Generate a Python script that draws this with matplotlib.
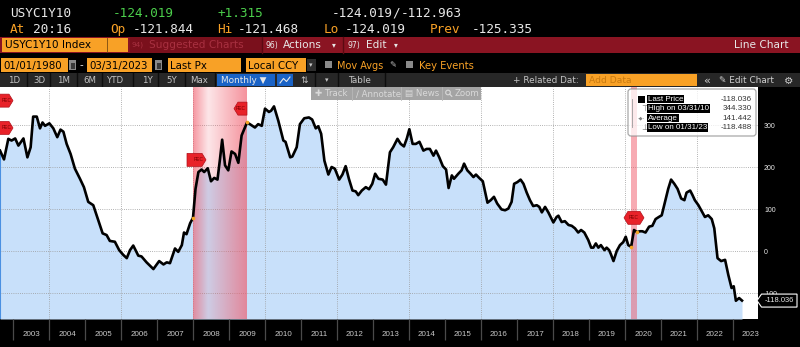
import numpy as np
import matplotlib
matplotlib.use("Agg")
import matplotlib.pyplot as plt
from matplotlib.patches import Rectangle, Polygon, FancyBboxPatch, Circle
import matplotlib.transforms as mtransforms

# ---- USYC1Y10 Index: monthly 1y/10y spread (bp), dates as decimal years ----
dates = [
    2002.64, 2002.75, 2002.87, 2002.96, 2003.06, 2003.15, 2003.29, 2003.40, 2003.49, 2003.56,
    2003.66, 2003.75, 2003.82, 2003.89, 2004.01, 2004.12, 2004.23, 2004.32, 2004.40, 2004.49,
    2004.60, 2004.72, 2004.86, 2004.97, 2005.09, 2005.23, 2005.37, 2005.49, 2005.60, 2005.69,
    2005.83, 2005.95, 2006.06, 2006.16, 2006.25, 2006.34, 2006.48, 2006.57, 2006.71, 2006.90,
    2007.06, 2007.18, 2007.27, 2007.36, 2007.50, 2007.59, 2007.69, 2007.75, 2007.82, 2007.92,
    2008.00, 2008.07, 2008.15, 2008.24, 2008.31, 2008.41, 2008.50, 2008.59, 2008.68, 2008.75,
    2008.81, 2008.89, 2008.98, 2009.07, 2009.17, 2009.26, 2009.35, 2009.50, 2009.58, 2009.72,
    2009.81, 2009.91, 2010.00, 2010.11, 2010.17, 2010.25, 2010.37, 2010.51, 2010.57, 2010.70,
    2010.76, 2010.88, 2010.97, 2011.09, 2011.22, 2011.31, 2011.41, 2011.48, 2011.56, 2011.65,
    2011.76, 2011.85, 2011.94, 2012.06, 2012.15, 2012.24, 2012.33, 2012.43, 2012.52, 2012.59,
    2012.69, 2012.80, 2012.89, 2012.98, 2013.06, 2013.15, 2013.27, 2013.36, 2013.47, 2013.56,
    2013.68, 2013.77, 2013.86, 2013.94, 2014.01, 2014.10, 2014.19, 2014.29, 2014.40, 2014.49,
    2014.58, 2014.68, 2014.75, 2014.84, 2014.94, 2015.03, 2015.10, 2015.19, 2015.25, 2015.37,
    2015.46, 2015.53, 2015.62, 2015.71, 2015.79, 2015.86, 2015.95, 2016.05, 2016.11, 2016.18,
    2016.27, 2016.36, 2016.45, 2016.57, 2016.67, 2016.76, 2016.85, 2016.92, 2017.01, 2017.10,
    2017.18, 2017.27, 2017.36, 2017.45, 2017.55, 2017.62, 2017.69, 2017.78, 2017.87, 2018.01,
    2018.10, 2018.15, 2018.24, 2018.33, 2018.43, 2018.52, 2018.61, 2018.70, 2018.78, 2018.87,
    2018.98, 2019.06, 2019.12, 2019.19, 2019.26, 2019.33, 2019.43, 2019.49, 2019.56, 2019.61,
    2019.68, 2019.77, 2019.86, 2019.95, 2020.02, 2020.09, 2020.17, 2020.25, 2020.33, 2020.42,
    2020.48, 2020.57, 2020.67, 2020.76, 2020.85, 2020.94, 2021.02, 2021.11, 2021.20, 2021.28,
    2021.37, 2021.46, 2021.56, 2021.65, 2021.71, 2021.81, 2021.87, 2021.94, 2022.04, 2022.13,
    2022.22, 2022.31, 2022.41, 2022.48, 2022.57, 2022.67, 2022.78, 2022.87, 2022.96, 2023.02,
    2023.08, 2023.17, 2023.25,
]
values = [
    239, 218, 267, 263, 268, 251, 268, 223, 247, 320,
    320, 292, 306, 298, 304, 292, 271, 289, 284, 255,
    231, 196, 172, 152, 117, 109, 73, 42, 38, 24,
    22, 2, -9, -17, 2, 13, -11, -13, -27, -43,
    -24, -32, -27, -29, 6, -2, 14, 44, 40, 66,
    79, 148, 188, 194, 188, 197, 166, 174, 170, 219,
    265, 204, 192, 237, 231, 210, 275, 306, 302, 294,
    302, 298, 339, 331, 334, 344.33, 310, 263, 260, 223,
    225, 247, 302, 316, 318, 313, 292, 297, 279, 215,
    182, 200, 196, 170, 182, 202, 172, 144, 142, 133,
    144, 152, 147, 160, 184, 172, 170, 158, 235, 247,
    267, 255, 249, 268, 290, 255, 255, 260, 239, 243,
    243, 227, 239, 223, 202, 194, 150, 180, 172, 184,
    192, 208, 192, 184, 176, 182, 174, 166, 142, 115,
    121, 129, 113, 99, 97, 101, 117, 160, 164, 170,
    160, 139, 121, 107, 109, 105, 92, 105, 92, 68,
    81, 84, 69, 71, 62, 60, 54, 44, 50, 44,
    26, 8, 8, 18, 8, 14, 2, 8, 2, -8,
    -24, 0, 14, 21, 34, 14, 10, 50, 45, 47,
    47, 44, 58, 60, 76, 81, 85, 117, 148, 170,
    160, 148, 125, 121, 139, 144, 134, 121, 109, 95,
    81, 85, 76, 54, -17, -24, -21, -57, -88, -84,
    -118.488, -112, -118.036,
]

recessions = [(2008.00, 2009.50), (2020.17, 2020.33)]
year_labels = list(range(2003, 2024))
y_ticks = [-100, 0, 100, 200, 300]

legend_rows = ["Last Price", "High on 03/31/10", "Average", "Low on 01/31/23"]
legend_vals = [-118.036, 344.330, 141.442, -118.488]
last_price = -118.036

# ---- colours / fonts ----
ORANGE = "#f8a126"
GREEN = "#4ccf4c"
WHITE = "#e8e8e8"
RED_BAR = "#8a1422"
MONO = ["DejaVu Sans Mono"]
SANS = ["DejaVu Sans"]
ARIAL = ["Liberation Sans", "DejaVu Sans"]

W, H = 800, 347
fig = plt.figure(figsize=(W / 100, H / 100), dpi=100, facecolor="black")

# pixel-space layer for the terminal chrome
ui = fig.add_axes([0, 0, 1, 1])
ui.set_xlim(0, W)
ui.set_ylim(H, 0)
ui.axis("off")
ui.set_zorder(0)


def txt(layer, x, y, s, color=WHITE, size=7.5, family=SANS, ha="left", **kw):
    layer.text(x, y, s, color=color, fontsize=size, family=family, ha=ha,
               va="center", **kw)


def box(layer, x0, y0, x1, y1, color, **kw):
    layer.add_patch(Rectangle((x0, y0), x1 - x0, y1 - y0, facecolor=color,
                              edgecolor=kw.pop("ec", "none"), lw=kw.pop("lw", 0), **kw))


# row 1 : ticker and last
txt(ui, 10, 13, "USYC1Y10", WHITE, 9.2, MONO)
txt(ui, 113, 13, "-124.019", GREEN, 9.2, MONO)
txt(ui, 217, 13, "+1.315", GREEN, 9.2, MONO)
txt(ui, 332, 13, "-124.019", WHITE, 9.2, MONO)
txt(ui, 392, 13, "/", WHITE, 9.2, MONO)
txt(ui, 401, 13, "-112.963", WHITE, 9.2, MONO)
# row 2 : quote details
for lab, lx, val, vx in [("At", 10, "20:16", 33), ("Op", 110, "-121.844", 133),
                         ("Hi", 217, "-121.468", 238), ("Lo", 324, "-124.019", 345),
                         ("Prev", 430, "-125.335", 472)]:
    txt(ui, lx, 29, lab, ORANGE, 9.2, MONO)
    txt(ui, vx, 29, val, WHITE, 9.2, MONO)

# row 3 : red command bar
box(ui, 0, 37, W, 53, RED_BAR)
box(ui, 130, 37, 262, 53, "#7a101c")
box(ui, 2, 38, 128, 52, ORANGE)
ui.plot([107, 107], [38, 52], color="#7a4a10", lw=0.6)
txt(ui, 5, 45, "USYC1Y10 Index", "black", 7.6)
txt(ui, 132, 45, "94)", "#a83040", 5.2)
txt(ui, 149, 45, "Suggested Charts", "#a83040", 7.6)
ui.plot([262, 262], [37, 53], color="#5a0a12", lw=1)
ui.plot([343, 343], [37, 53], color="#5a0a12", lw=1)
txt(ui, 265, 45, "96)", WHITE, 5.5)
txt(ui, 283, 45, "Actions", WHITE, 7.6)
txt(ui, 332, 45, "\u25be", WHITE, 5.5)
txt(ui, 347, 45, "97)", WHITE, 5.5)
txt(ui, 366, 45, "Edit", WHITE, 7.6)
txt(ui, 394, 45, "\u25be", WHITE, 5.5)
txt(ui, 789, 45, "Line Chart", WHITE, 7.6, ha="right")

# row 4 : date range / options
for x0, x1, s in [(1, 68, "01/01/1980"), (87, 152, "03/31/2023"),
                  (168, 241, "Last Px"), (246, 306, "Local CCY")]:
    box(ui, x0, 58, x1, 72, ORANGE)
    txt(ui, x0 + 2, 65.5, s, "black", 7.4)
for cx in (69, 155):
    box(ui, cx, 60, cx + 7, 70, "#8a8a8a")
    box(ui, cx + 1.5, 62.5, cx + 5.5, 68.5, "#3a3a3a")
txt(ui, 79, 65, "-", WHITE, 7.4)
box(ui, 307, 59, 316, 71, "#2e2e2e")
txt(ui, 309, 65, "\u25be", "#c8c8c8", 5)
box(ui, 325, 61, 332, 68, "#8a8a8a")
txt(ui, 337, 65.5, "Mov Avgs", ORANGE, 7.0)
txt(ui, 389, 65, "\u270e", "#bdbdbd", 6.0)
box(ui, 406, 61, 413, 68, "#8a8a8a")
txt(ui, 419, 65.5, "Key Events", ORANGE, 7.2)

# row 5 : period buttons and chart tools
box(ui, 0, 73, W, 87, "#272727")
for sx in (27, 50, 77, 102, 133, 158, 185, 215, 315, 338, 385):
    ui.plot([sx, sx], [73, 87], color="#0d0d0d", lw=1)
for cx, s in [(14, "1D"), (39, "3D"), (64, "1M"), (90, "6M"), (116, "YTD"),
              (147, "1Y"), (172, "5Y"), (199, "Max")]:
    txt(ui, cx, 80.5, s, "#c4c4c4", 6.2, ha="center")
box(ui, 217, 74, 275, 86, "#1a63c6")
txt(ui, 221, 80.5, "Monthly \u25bc", WHITE, 6.4)
box(ui, 277, 74, 293, 86, "#1a63c6")
ui.plot([280, 283.5, 286.5, 290], [83, 78.5, 81.5, 77], color=WHITE, lw=0.8)
txt(ui, 300, 80.5, "\u21c5", "#c4c4c4", 6.5)
txt(ui, 325, 80.5, "\u25be", "#c4c4c4", 5)
txt(ui, 348, 80.5, "Table", "#c4c4c4", 6.4)
txt(ui, 513, 80.5, "+ Related Dat:", "#c4c4c4", 6.4)
box(ui, 586, 74, 697, 86, ORANGE)
txt(ui, 589, 80.5, "Add Data", "#c87a10", 6.6)
txt(ui, 703, 80.5, "\u00ab", "#d0d0d0", 8)
txt(ui, 719, 80.5, "\u270e Edit Chart", "#d0d0d0", 6.4)
txt(ui, 784, 80.5, "\u2699", "#d0d0d0", 7.5)

# ---- chart ----
PLOT_L, PLOT_R, PLOT_T, PLOT_B = 0, 758, 87, 319
ax = fig.add_axes([PLOT_L / W, (H - PLOT_B) / H, (PLOT_R - PLOT_L) / W, (PLOT_B - PLOT_T) / H])
ax.set_zorder(1)
ax.set_facecolor("white")

px_per_year = 36.0
x_left = 2003 - 13 / px_per_year
x_right = x_left + (PLOT_R - PLOT_L) / px_per_year
px_per_bp = 0.42
y_top = (251 - PLOT_T) / px_per_bp
y_bot = (251 - PLOT_B) / px_per_bp

ax.fill_between(dates, values, y_bot, color="#c8e0fa", lw=0, zorder=1)

# dotted grid
grid_kw = dict(color="#9a9a9a", lw=0.6, ls=(0, (1, 1.6)), zorder=1.5)
for v in y_ticks:
    ax.axhline(v, **grid_kw)
for yr in year_labels:
    if yr % 2 == 0:
        ax.axvline(yr, **grid_kw)

# recession shading (horizontal pink gradient)
for (r0, r1) in recessions:
    n = 64
    t = np.linspace(0, 1, n)
    if r1 - r0 > 0.5:
        alpha = np.where(t < 0.28, 0.62 - 0.47 * t / 0.28, 0.15 + 0.5 * (t - 0.28) / 0.72)
    else:
        alpha = np.full(n, 0.5)
    img = np.zeros((1, n, 4))
    img[..., 0] = 240 / 255
    img[..., 1] = 88 / 255
    img[..., 2] = 104 / 255
    img[..., 3] = alpha
    ax.imshow(img, extent=(r0, r1, y_bot, y_top), aspect="auto", zorder=2,
              interpolation="bilinear")

ax.plot(dates, values, color="black", lw=1.9, zorder=4, solid_joinstyle="round")
ax.plot([dates[0], dates[0]], [y_bot, values[0]], color="#4a90e2", lw=1.5, zorder=3)

# orange markers at recession boundaries
lookup = dict(zip(dates, values))
for (r0, r1) in recessions:
    for d in (r0, r1):
        ax.plot(d, lookup[d], "o", ms=2.6, color="#f5a623", mec="none", zorder=5)

ax.set_xlim(x_left, x_right)
ax.set_ylim(y_bot, y_top)
for sp in ax.spines.values():
    sp.set_visible(False)

# year axis: separators at year boundaries, labels mid-year
ax.set_xticks(year_labels)
ax.set_xticklabels([])
ax.set_xticks([y + 0.5 for y in year_labels], minor=True)
ax.set_xticklabels([str(y) for y in year_labels], minor=True, family=ARIAL,
                   fontsize=5.8, color="#c8c8c8")
ax.tick_params(axis="x", which="major", direction="out", length=15, width=0.9,
               color="#4a4a4a")
ax.tick_params(axis="x", which="minor", length=0, pad=9)

ax.yaxis.tick_right()
ax.set_yticks(y_ticks)
ax.set_yticklabels([str(v) for v in y_ticks], family=ARIAL, fontsize=5.0, color=WHITE)
ax.tick_params(axis="y", length=0, pad=4.3)

fig.canvas.draw()


def anchor(d, v):
    px = ax.transData.transform((d, v))
    return mtransforms.Affine2D().translate(px[0], px[1])


REC_FACE, REC_EDGE, REC_TXT = "#e82229", "#b0101a", "#7a0000"


def rec_marker(d, v, kind, text_dx):
    h = 6.5
    if kind == "right":
        verts = [(-6, -h), (9, -h), (13, 0), (9, h), (-6, h)]
    elif kind == "left":
        verts = [(0, -h), (-9, -h), (-13, 0), (-9, h), (0, h)]
    else:
        verts = [(-10, 0), (-6, h), (6, h), (10, 0), (6, -h), (-6, -h)]
    tr = anchor(d, v)
    ax.add_patch(Polygon(verts, closed=True, facecolor=REC_FACE, edgecolor=REC_EDGE,
                         lw=0.5, transform=tr, zorder=6))
    ax.text(text_dx, 0, "REC", color=REC_TXT, fontsize=3.4, family=ARIAL,
            ha="center", va="center", transform=tr, zorder=7)


rec_marker(x_left, 358, "right", 6.5)
rec_marker(x_left, 293, "right", 6.5)
rec_marker(recessions[0][0], 217, "right", 6)
rec_marker(recessions[0][1], 339, "left", -6)
rec_marker((recessions[1][0] + recessions[1][1]) / 2, 79, "hex", 0)

# overlay layer (toolbar, legend, last-price tag)
top = fig.add_axes([0, 0, 1, 1])
top.set_xlim(0, W)
top.set_ylim(H, 0)
top.axis("off")
top.set_zorder(3)
top.patch.set_alpha(0)

box(top, 311, 87, 481, 100, "#9a9a9a", alpha=0.9)
for sx in (352, 401, 442):
    top.plot([sx, sx], [87, 100], color="#b8b8b8", lw=0.6)
txt(top, 315, 93.5, "\u271a Track", "#d9d9d9", 6.2)
txt(top, 356, 93.5, "\u2215 Annotate", "#d9d9d9", 6.2)
txt(top, 405, 93.5, "\u25a4 News", "#d9d9d9", 6.2)
# magnifier icon
top.add_patch(Circle((448, 92.5), 2.3, facecolor="none", edgecolor="#d9d9d9", lw=0.8))
top.plot([449.7, 451.8], [94.2, 96.3], color="#d9d9d9", lw=0.9)
txt(top, 455, 93.5, "Zoom", "#d9d9d9", 6.2)

top.add_patch(FancyBboxPatch((628, 89), 128, 47, boxstyle="round,pad=0,rounding_size=3",
                             facecolor="white", alpha=0.75, edgecolor="#8c8c8c", lw=0.9))
row_y = [99, 108.5, 118, 127.5]
top.plot([632, 632], [99, 127], color="#9a9a9a", lw=0.6)
box(top, 638, 95.5, 645, 102.5, "black")
txt(top, 641, 108.5, "\u22a4", "#808080", 6)
txt(top, 641, 118, "-\u25c6-", "#808080", 3.5, ha="center")
txt(top, 641, 127.5, "\u22a5", "#808080", 6)
for yy, lab, val in zip(row_y, legend_rows, legend_vals):
    top.text(648, yy, lab, color="white", fontsize=5.8, family=ARIAL, va="center",
             bbox=dict(facecolor="black", edgecolor="none", pad=0.6))
    txt(top, 752, yy, f"{val:.3f}", "#333333", 5.8, ARIAL, ha="right")

ly = H - ax.transData.transform((0, last_price))[1]
top.add_patch(Polygon([(757, ly), (761.5, ly - 6.5), (797, ly - 6.5), (797, ly + 6.5),
                       (761.5, ly + 6.5)], closed=True, facecolor="black",
                      edgecolor="white", lw=0.8))
txt(top, 779.5, ly, f"{last_price:.3f}", WHITE, 5.4, ARIAL, ha="center")

fig.savefig("out.png", dpi=100, facecolor="black")
